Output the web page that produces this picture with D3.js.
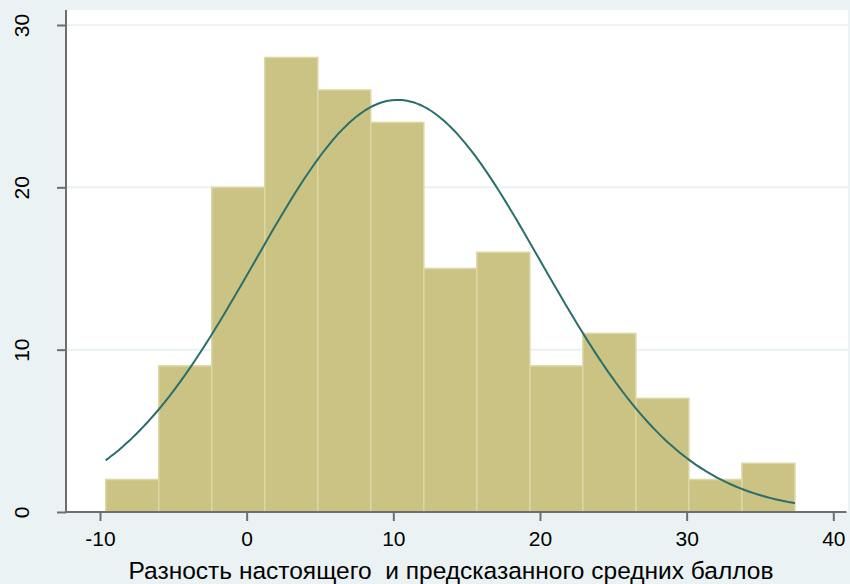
<!DOCTYPE html>
<html><head><meta charset="utf-8">
<script src="https://cdn.jsdelivr.net/npm/d3@7"></script>
<style>html,body{margin:0;padding:0;background:#EAF2F3;}svg{display:block;}</style>
</head><body>
<svg id="c" width="850" height="584"></svg>
<script>
// Data
const binStart = -9.61;
const binWidth = 3.615;
const counts = [2, 9, 20, 28, 26, 24, 15, 16, 9, 11, 7, 2, 3];
const xTicks = [-10, 0, 10, 20, 30, 40];
const yTicks = [0, 10, 20, 30];
const normMean = 10.3;
const normSd = 9.77;
const xTitle = "Разность настоящего  и предсказанного средних баллов";

const svg = d3.select("#c");
const W = 850, H = 584;
const pl = 66, pr = 848, pt = 10, pb = 512;
const font = "Liberation Sans, Arial, sans-serif";

const x = d3.scaleLinear().domain([-10, 40]).range([100, 833.3]);
const y = d3.scaleLinear().domain([0, 30]).range([512, 25]);

svg.append("rect").attr("width", W).attr("height", H).attr("fill", "#EAF2F3");
svg.append("rect").attr("x", pl).attr("y", pt).attr("width", pr - pl).attr("height", pb - pt).attr("fill", "#FFFFFF");

// gridlines
svg.append("g").selectAll("line").data(yTicks.filter(d => d > 0)).join("line")
  .attr("x1", pl).attr("x2", pr).attr("y1", d => y(d)).attr("y2", d => y(d))
  .attr("stroke", "#EAF2F3").attr("stroke-width", 2);

// bars
const bins = counts.map((c, i) => ({x0: binStart + i * binWidth, x1: binStart + (i + 1) * binWidth, c}));
svg.append("g").selectAll("rect").data(bins).join("rect")
  .attr("x", d => x(d.x0)).attr("width", d => x(d.x1) - x(d.x0))
  .attr("y", d => y(d.c)).attr("height", d => y(0) - y(d.c))
  .attr("fill", "#CBC383").attr("stroke", "#DDD7A4").attr("stroke-width", 1.5);

// normal curve
const N = d3.sum(counts);
const xmin = binStart, xmax = binStart + counts.length * binWidth;
const pts = d3.range(0, 201).map(i => {
  const v = xmin + (xmax - xmin) * i / 200;
  const z = (v - normMean) / normSd;
  return [v, N * binWidth * Math.exp(-0.5 * z * z) / (normSd * Math.sqrt(2 * Math.PI))];
});
svg.append("path").datum(pts)
  .attr("d", d3.line().x(d => x(d[0])).y(d => y(d[1])).curve(d3.curveBasis))
  .attr("fill", "none").attr("stroke", "#2A6F6B").attr("stroke-width", 2);

// axes
const xAxis = svg.append("g").attr("transform", `translate(0,${pb})`)
  .call(d3.axisBottom(x).tickValues(xTicks).tickSize(9).tickPadding(10).tickFormat(d => String(d)));
xAxis.select(".domain").attr("d", `M${pl},0H${846.5}`);
const yAxis = svg.append("g").attr("transform", `translate(${pl},0)`)
  .call(d3.axisLeft(y).tickValues(yTicks).tickSize(9).tickFormat(d => String(d)));
yAxis.select(".domain").attr("d", `M0,${pt}V${pb}`);
[xAxis, yAxis].forEach(a => {
  a.selectAll(".domain").attr("stroke", "#6E6E6E").attr("stroke-width", 2);
  a.selectAll(".tick line").attr("stroke", "#6E6E6E").attr("stroke-width", 2);
  a.selectAll("text").attr("font-family", font).attr("font-size", 21).attr("fill", "#000");
});
yAxis.selectAll(".tick text").attr("transform", "rotate(-90)").attr("x", 0).attr("y", -37)
  .attr("text-anchor", "middle").attr("dy", "0");

svg.append("text").attr("x", 451).attr("y", 579).attr("text-anchor", "middle")
  .attr("font-family", font).attr("font-size", 24.5).attr("fill", "#000")
  .attr("xml:space", "preserve").style("white-space", "pre")
  .text(xTitle);
</script>
</body></html>
